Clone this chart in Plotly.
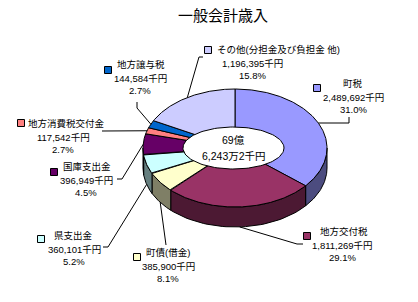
import numpy as np
import plotly.graph_objects as go

# ---- data ----
title_text = "一般会計歳入"
categories = ["町税", "地方交付税", "町債(借金)", "県支出金", "国庫支出金",
              "地方消費税交付金", "地方譲与税", "その他(分担金及び負担金 他)"]
amounts = [2489692, 1811269, 385900, 360101, 396949, 117542, 144584, 1196395]  # 千円
pct_labels = ["31.0%", "29.1%", "8.1%", "5.2%", "4.5%", "2.7%", "2.7%", "15.8%"]
total_lines = ["69億", "6,243万2千円"]

# ---- styles ----
top_colors = ["#9999FF", "#993366", "#FFFFCC", "#CCFFFF", "#660066",
              "#FF8080", "#0066CC", "#CCCCFF"]
FONT = "Liberation Sans, Noto Sans CJK JP"
TITLE_FONT = "Noto Sans CJK JP"
LABEL_SIZE = 9.5
W, H = 418, 302

# ellipse geometry of the tilted pie (pixel space)
CX, CY, RX, RY, DEPTH = 235, 148, 92, 59, 20
HX, HY, HRX, HRY = 233.5, 148, 50.5, 21

# label layout: caption line centre, centre x of the figures below, key square
name_pos = [(353, 83), (344, 231), (168, 252), (73, 235), (87, 166), (66, 123), (141, 64), (278, 49)]
figures_x = [353, 342, 168, 74, 86, 63, 140, 252]
key_pos = [(317, 88), (307, 236), (137, 257), (41, 239), (54, 172), (21, 123), (108, 70), (208, 50)]
AMOUNT_DY, PCT_DY = 14.0, 26.3
leader_via = [
    [(349, 123), (349, 117)],
    [(297, 244), (303, 244)],
    [(166, 245)],
    [(108, 247), (103, 247)],
    [(122, 179), (117, 179)],
    [(102, 131)],
    [(137, 108), (137, 102)],
    [(199, 57), (203, 57)],
]


def shade(hex_color, f=0.5):
    h = hex_color.lstrip("#")
    r, g, b = (int(h[i:i + 2], 16) for i in (0, 2, 4))
    return "rgb(%d,%d,%d)" % (r * f, g * f, b * f)


def ellipse_pt(phi, dy=0.0):
    t = np.radians(phi)
    return CX + RX * np.sin(t), CY - RY * np.cos(t) + dy


total = float(sum(amounts))
bounds = np.concatenate([[0.0], np.cumsum(amounts) / total * 360.0])

fig = go.Figure()

# side walls of the front half
for i, col in enumerate(top_colors):
    lo, hi = max(bounds[i], 90.0), min(bounds[i + 1], 270.0)
    if lo >= hi:
        continue
    phis = np.linspace(lo, hi, 40)
    tx, ty = ellipse_pt(phis)
    bx, by = ellipse_pt(phis[::-1], DEPTH)
    xs = np.concatenate([tx, bx, tx[:1]])
    ys = np.concatenate([ty, by, ty[:1]])
    fig.add_trace(go.Scatter(x=xs, y=ys, mode="lines", fill="toself",
                             fillcolor=shade(col), line=dict(color="black", width=1),
                             hoverinfo="skip", showlegend=False))

# top faces
for i, col in enumerate(top_colors):
    phis = np.linspace(bounds[i], bounds[i + 1], max(4, int((bounds[i + 1] - bounds[i]) * 2)))
    ax, ay = ellipse_pt(phis)
    xs = np.concatenate([[CX], ax, [CX]])
    ys = np.concatenate([[CY], ay, [CY]])
    fig.add_trace(go.Scatter(x=xs, y=ys, mode="lines", fill="toself",
                             fillcolor=col, line=dict(color="black", width=1),
                             hoverinfo="skip", showlegend=False))

# white centre ellipse with the total
tt = np.linspace(0, 2 * np.pi, 120)
fig.add_trace(go.Scatter(x=HX + HRX * np.cos(tt), y=HY + HRY * np.sin(tt), mode="lines",
                         fill="toself", fillcolor="white", line=dict(color="black", width=1),
                         hoverinfo="skip", showlegend=False))

# leader lines from each slice to its label
for i in range(len(categories)):
    mid = (bounds[i] + bounds[i + 1]) / 2
    sx, sy = ellipse_pt(mid, DEPTH if 90 < mid < 270 else 0.0)
    pts = [(sx, sy)] + leader_via[i]
    fig.add_trace(go.Scatter(x=[p[0] for p in pts], y=[p[1] for p in pts], mode="lines",
                             line=dict(color="black", width=1),
                             hoverinfo="skip", showlegend=False))

# legend keys beside the labels
fig.add_trace(go.Scatter(x=[p[0] for p in key_pos], y=[p[1] for p in key_pos], mode="markers",
                         marker=dict(symbol="square", size=7, color=top_colors,
                                     line=dict(color="black", width=1)),
                         hoverinfo="skip", showlegend=False))

annotations = []


def add_text(x, y, text, size=LABEL_SIZE, family=FONT):
    annotations.append(dict(x=x, y=y, xref="x", yref="y", text=text, showarrow=False,
                            xanchor="center", yanchor="middle", align="center",
                            borderpad=0,
                            font=dict(family=family, size=size, color="black")))


for i, name in enumerate(categories):
    nx, ny = name_pos[i]
    add_text(nx, ny, name)
    add_text(figures_x[i], ny + AMOUNT_DY, f"{amounts[i]:,}千円")
    add_text(figures_x[i], ny + PCT_DY, pct_labels[i])

add_text(HX, 140.4, total_lines[0], 10.5)
add_text(HX, 155.8, total_lines[1], 10.5)
add_text(223, 14, title_text, 15, TITLE_FONT)

fig.update_layout(
    width=W, height=H, autosize=False,
    margin=dict(l=0, r=0, t=0, b=0),
    paper_bgcolor="white", plot_bgcolor="white",
    xaxis=dict(range=[0, W], visible=False, fixedrange=True),
    yaxis=dict(range=[H, 0], visible=False, fixedrange=True),
    annotations=annotations,
    showlegend=False,
)

fig.write_html("out.html", config={"displayModeBar": False})
